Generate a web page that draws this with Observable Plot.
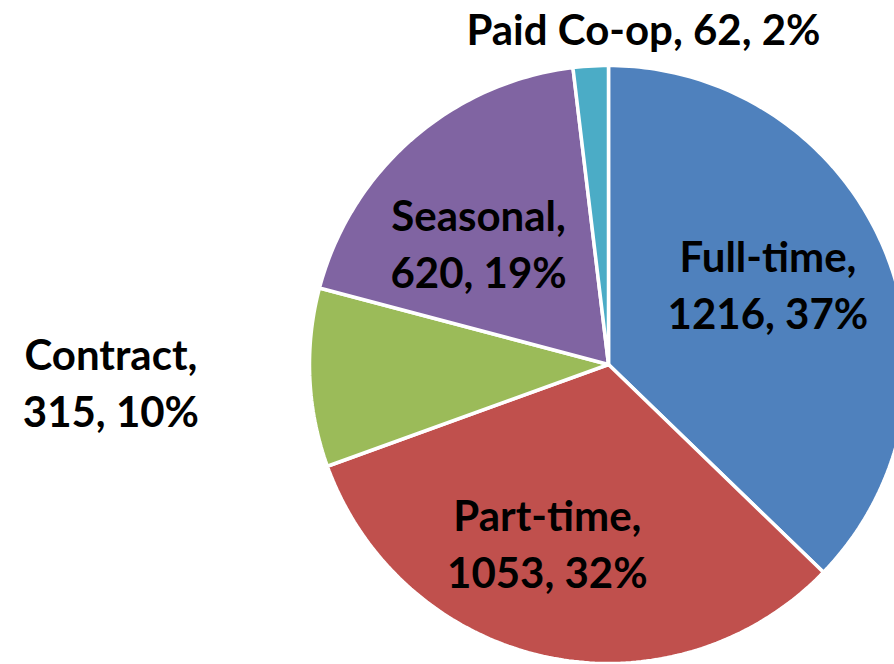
<!DOCTYPE html>
<html>
<head>
<meta charset="utf-8">
<script src="https://cdn.jsdelivr.net/npm/d3@7"></script>
<script src="https://cdn.jsdelivr.net/npm/@observablehq/plot@0.6"></script>
<style>
  html, body { margin: 0; padding: 0; background: #fff; }
  #chart svg { display: block; }
</style>
</head>
<body>
<div id="chart"></div>
<script>
// Data
const categories = ["Full-time", "Part-time", "Contract", "Seasonal", "Paid Co-op"];
const counts = [1216, 1053, 315, 620, 62];
const percentLabels = ["37%", "32%", "10%", "19%", "2%"];
const colors = ["#4F81BD", "#C0504D", "#9BBB59", "#8064A2", "#4BACC6"];

// Layout (label placement: angle in degrees clockwise from top, radius as fraction of pie radius)
const labelAngle = [62.7, 199.1, 268.2, 313.6, 5.9];
const labelRadius = [0.60, 0.625, 1.665, 0.60, 1.137];
const labelSplit = [true, true, true, true, false];

const W = 894, H = 664, R = 299, CX = 608, CY = 364;

const total = d3.sum(counts);
let cum = 0;
const slices = categories.map((name, i) => {
  const a0 = cum / total * 2 * Math.PI;
  cum += counts[i];
  const a1 = cum / total * 2 * Math.PI;
  return {name, value: counts[i], a0, a1, color: colors[i]};
});

// Arc outline geometry for each slice (unit radius, clockwise from 12 o'clock)
function slicePath(s) {
  const pts = [{x: 0, y: 0}];
  const n = Math.max(4, Math.ceil((s.a1 - s.a0) / (Math.PI / 180)));
  for (let k = 0; k <= n; k++) {
    const a = s.a0 + (s.a1 - s.a0) * k / n;
    pts.push({x: Math.sin(a), y: Math.cos(a)});
  }
  pts.push({x: 0, y: 0});
  return pts;
}

const labels = categories.map((name, i) => {
  const a = labelAngle[i] * Math.PI / 180;
  const r = labelRadius[i];
  const txt = labelSplit[i]
    ? `${name},\n${counts[i]}, ${percentLabels[i]}`
    : `${name}, ${counts[i]}, ${percentLabels[i]}`;
  return {x: r * Math.sin(a), y: r * Math.cos(a), text: txt};
});

const plot = Plot.plot({
  width: W,
  height: H,
  margin: 0,
  x: {domain: [-CX / R, (W - CX) / R], axis: null},
  y: {domain: [-(H - CY) / R, CY / R], axis: null},
  style: {background: "#fff"},
  marks: [
    ...slices.map(s => Plot.line(slicePath(s), {
      x: "x", y: "y",
      fill: s.color,
      stroke: "#fff",
      strokeWidth: 3.5,
      strokeLinejoin: "miter",
      curve: "linear-closed"
    })),
    Plot.text(labels, {
      x: "x", y: "y", text: "text",
      fontSize: 42,
      fontWeight: "bold",
      fontFamily: "Lato, 'Open Sans', sans-serif",
      fill: "#000",
      lineHeight: 1.36,
      lineAnchor: "middle",
      textAnchor: "middle"
    })
  ]
});

document.getElementById("chart").appendChild(plot);
</script>
</body>
</html>
